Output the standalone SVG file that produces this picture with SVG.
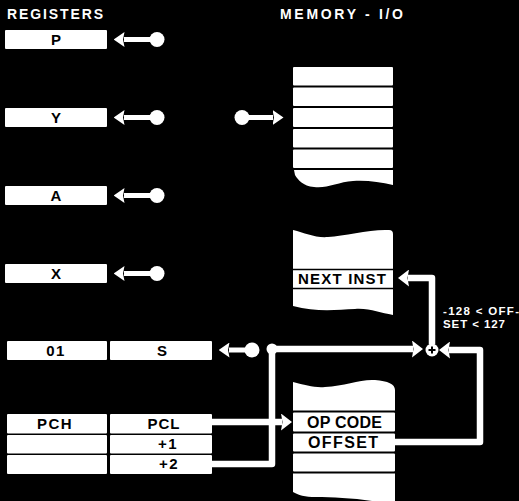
<svg xmlns="http://www.w3.org/2000/svg" width="519" height="501" viewBox="0 0 519 501">
<style>
.bg{fill:#000}
.box{fill:#fff}
.t{font-family:"Liberation Sans",Arial,sans-serif;font-weight:bold;font-size:15px;fill:#000;text-anchor:middle}
.tw{font-family:"Liberation Sans",Arial,sans-serif;font-weight:bold;font-size:14px;fill:#fff}
.note{font-family:"Liberation Sans",Arial,sans-serif;font-weight:bold;font-size:11.5px;fill:#fff}
.ra{stroke:#fff;stroke-width:5;fill:none;marker-start:url(#dot);marker-end:url(#head)}
.loop{stroke:#fff;stroke-width:6.5;fill:none;stroke-linejoin:round;marker-end:url(#headL)}
.sep{stroke:#000;stroke-width:1.5}
</style>
<defs>
<marker id="head" markerUnits="userSpaceOnUse" viewBox="0 0 11 15" refX="0.5" refY="7.5" markerWidth="11" markerHeight="15" orient="auto"><path d="M0,0 L11,7.5 L0,15 L1.5,7.5 Z" fill="#fff"/></marker>
<marker id="headL" markerUnits="userSpaceOnUse" viewBox="0 0 11 17" refX="1" refY="8.5" markerWidth="11" markerHeight="17" orient="auto"><path d="M0,0 L11,8.5 L0,17 L1.5,8.5 Z" fill="#fff"/></marker>
<marker id="dot" markerUnits="userSpaceOnUse" viewBox="0 0 16 16" refX="8" refY="8" markerWidth="16" markerHeight="16"><circle cx="8" cy="8" r="7.5" fill="#fff"/></marker>
</defs>
<rect class="bg" x="0" y="0" width="519" height="501"/>

<text class="tw" x="7" y="19" textLength="96" lengthAdjust="spacing">REGISTERS</text>
<text class="tw" x="280" y="19" textLength="123" lengthAdjust="spacing">MEMORY - I/O</text>

<g id="reg-P"><rect class="box" x="5" y="30" width="102" height="19" rx="1"/><text class="t" x="56" y="45">P</text></g>
<g id="reg-Y"><rect class="box" x="5" y="108" width="102" height="19" rx="1"/><text class="t" x="56" y="123">Y</text></g>
<g id="reg-A"><rect class="box" x="5" y="186" width="102" height="19" rx="1"/><text class="t" x="56" y="201">A</text></g>
<g id="reg-X"><rect class="box" x="5" y="264" width="102" height="19" rx="1"/><text class="t" x="56" y="279">X</text></g>
<g id="reg-01"><rect class="box" x="7" y="341" width="100" height="19" rx="1"/><text class="t" x="56" y="356" letter-spacing="1.5">01</text></g>
<g id="reg-S"><rect class="box" x="110" y="341" width="102" height="19" rx="1"/><text class="t" x="162" y="356">S</text></g>
<g id="reg-PC">
<rect class="box" x="7" y="414" width="100" height="19.5" rx="1"/>
<rect class="box" x="110" y="414" width="102" height="19.5" rx="1"/>
<rect class="box" x="7" y="435" width="100" height="18.5" rx="1"/>
<rect class="box" x="110" y="435" width="102" height="18.5" rx="1"/>
<rect class="box" x="7" y="455" width="100" height="19" rx="1"/>
<rect class="box" x="110" y="455" width="102" height="19" rx="1"/>
<text class="t" x="55" y="429" letter-spacing="1.5">PCH</text>
<text class="t" x="164" y="429" letter-spacing="1">PCL</text>
<text class="t" x="168" y="449" letter-spacing="1.5">+1</text>
<text class="t" x="169" y="469" letter-spacing="1.5">+2</text>
</g>

<g id="mem-top">
<rect class="box" x="293" y="67" width="100" height="18.5" rx="1"/>
<rect class="box" x="293" y="87.5" width="100" height="18.5" rx="1"/>
<rect class="box" x="293" y="108" width="100" height="19" rx="1"/>
<rect class="box" x="293" y="129" width="100" height="18.5" rx="1"/>
<rect class="box" x="293" y="149.5" width="100" height="18.5" rx="1"/>
<path class="box" d="M294,170 H393 V185 C380,182 366,180 353,181 C338,182 326,189 314,187 C303,186 298,180 295,175 Z"/>
</g>

<g id="mem-next">
<path class="box" d="M293,230 C305,233 315,238 328,237 C345,236 370,229 389,230 Q393,230 393,234 V315 C380,313 370,308 355,309 C335,310 315,312 293,306 Z"/>
<line class="sep" x1="293" y1="269.5" x2="393" y2="269.5"/>
<line class="sep" x1="293" y1="288.5" x2="393" y2="288.5"/>
<text class="t" x="298" y="284" style="text-anchor:start" textLength="88" lengthAdjust="spacing">NEXT INST</text>
</g>

<g id="mem-prog">
<path class="box" d="M293,382 C305,385 315,388 325,387 C345,386 360,379 375,380 C388,381 395,384 395,390 V410.5 H293 Z"/>
<rect class="box" x="293" y="412.5" width="102" height="19" rx="1"/>
<rect class="box" x="293" y="433.5" width="102" height="18" rx="1"/>
<rect class="box" x="293" y="453.5" width="102" height="18" rx="1"/>
<path class="box" d="M293,473.5 H395 V501 H372 C352,498 332,497 316,497 C305,497 298,495 293,492 Z"/>
<text class="t" x="307" y="428" style="text-anchor:start;font-size:16px" textLength="75" lengthAdjust="spacing">OP CODE</text>
<text class="t" x="308" y="448" style="text-anchor:start;font-size:16px" textLength="70" lengthAdjust="spacing">OFFSET</text>
</g>

<g id="connectors">
<path class="ra" d="M157,39.5 H124"/>
<path class="ra" d="M157,117.5 H124"/>
<path class="ra" d="M157,195.5 H124"/>
<path class="ra" d="M157,273.5 H124"/>
<path class="ra" d="M252,350 H229"/>
<path class="ra" d="M242,117.5 H273"/>
<path class="loop" d="M212,422 H282"/>
<path class="loop" d="M212,464 H272 V349 H413"/>
<circle cx="272" cy="349" r="5.5" fill="#fff"/>
<path class="loop" d="M395,442 H480 V350 H449"/>
<path class="loop" d="M432,344 V278 H408"/>
<circle cx="432" cy="350" r="6.5" fill="#fff"/>
<path d="M428.5,350 H435.5 M432,346.5 V353.5" stroke="#000" stroke-width="2"/>
</g>

<text class="note" x="443" y="315" textLength="76" lengthAdjust="spacing">-128 &lt; OFF-</text>
<text class="note" x="443" y="328" textLength="62" lengthAdjust="spacing">SET &lt; 127</text>
</svg>
